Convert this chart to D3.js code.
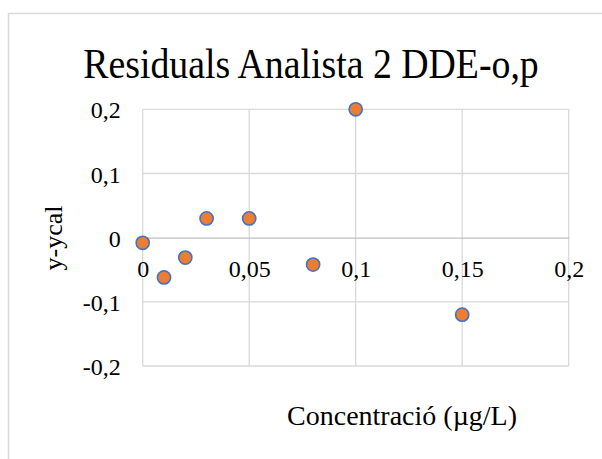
<!DOCTYPE html>
<html>
<head>
<meta charset="utf-8">
<script src="https://cdn.jsdelivr.net/npm/d3@7"></script>
<style>
  html, body { margin: 0; padding: 0; background: #ffffff; }
  svg { display: block; }
  text { font-family: "Liberation Serif", "DejaVu Serif", serif; fill: #000; }
</style>
</head>
<body>
<script>
// Residuals per calibration concentration
const concentration = [0, 0.01, 0.02, 0.03, 0.05, 0.08, 0.1, 0.15];
const residuals = [-0.008, -0.062, -0.031, 0.03, 0.03, -0.042, 0.2, -0.12];
const xTicks = [0, 0.05, 0.1, 0.15, 0.2];
const yTicks = [-0.2, -0.1, 0, 0.1, 0.2];
const chartTitle = "Residuals Analista 2 DDE-o,p";
const xTitle = "Concentració (µg/L)";
const yTitle = "y-ycal";

const W = 602, H = 459;
const plot = { left: 142.7, right: 568.7, top: 109.3, bottom: 366 };
const fmt = v => String(+v.toFixed(2)).replace(".", ",");

const svg = d3.select("body").append("svg").attr("width", W).attr("height", H);

// chart frame
svg.append("rect")
  .attr("x", 8.5).attr("y", 13.5)
  .attr("width", W + 10).attr("height", H + 10)
  .attr("fill", "#fff").attr("stroke", "#d9d9d9").attr("stroke-width", 1.5);

const x = d3.scaleLinear().domain([0, 0.2]).range([plot.left, plot.right]);
const y = d3.scaleLinear().domain([-0.2, 0.2]).range([plot.bottom, plot.top]);

// gridlines
const grid = svg.append("g").attr("stroke", "#d9d9d9").attr("stroke-width", 1.3);
grid.selectAll("line.h").data(yTicks.filter(v => v !== 0)).join("line")
  .attr("x1", plot.left).attr("x2", plot.right)
  .attr("y1", d => y(d)).attr("y2", d => y(d));
grid.selectAll("line.v").data(xTicks).join("line")
  .attr("y1", plot.top).attr("y2", plot.bottom)
  .attr("x1", d => x(d)).attr("x2", d => x(d));

// horizontal axis crossing at zero
const xAxis = svg.append("g").attr("transform", `translate(0,${y(0)})`)
  .call(d3.axisBottom(x).tickValues(xTicks).tickFormat(fmt).tickSize(0).tickPadding(22));
xAxis.select(".domain").attr("stroke", "#bfbfbf").attr("stroke-width", 1.3);
xAxis.selectAll("text").attr("font-size", 24).style("font-family", "Liberation Serif, serif");

// vertical axis labels
const yAxis = svg.append("g").attr("transform", `translate(${plot.left},0)`)
  .call(d3.axisLeft(y).tickValues(yTicks).tickFormat(fmt).tickSize(0).tickPadding(22));
yAxis.select(".domain").remove();
yAxis.selectAll("text").attr("font-size", 24).attr("dy", "0.36em").style("font-family", "Liberation Serif, serif");

// markers
svg.append("g").selectAll("circle")
  .data(concentration.map((c, i) => ({ c, r: residuals[i] })))
  .join("circle")
  .attr("cx", d => x(d.c)).attr("cy", d => y(d.r))
  .attr("r", 6.6)
  .attr("fill", "#ed7d31").attr("stroke", "#4472c4").attr("stroke-width", 1.6);

// titles
svg.append("text").attr("transform", "translate(311,78) scale(0.9,1)")
  .attr("text-anchor", "middle")
  .attr("font-size", 42).text(chartTitle);
svg.append("text").attr("x", 402).attr("y", 425).attr("text-anchor", "middle")
  .attr("font-size", 28).text(xTitle);
svg.append("text").attr("transform", "translate(62,238) rotate(-90)")
  .attr("text-anchor", "middle").attr("font-size", 26).text(yTitle);
</script>
</body>
</html>
